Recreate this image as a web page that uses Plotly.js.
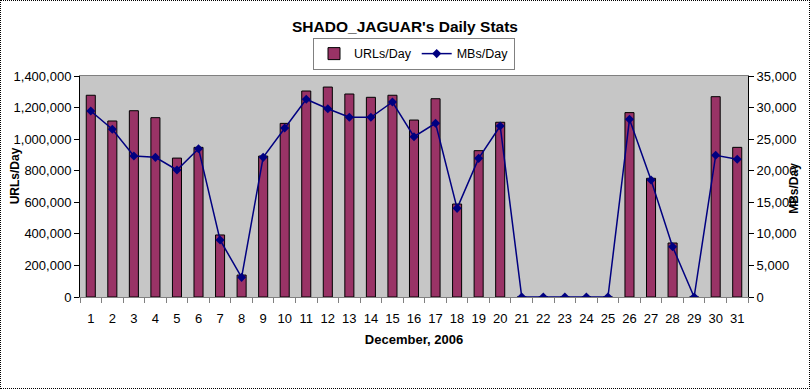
<!DOCTYPE html>
<html>
<head>
<meta charset="utf-8">
<script src="https://cdn.plot.ly/plotly-3.0.1.min.js"></script>
<style>
  html, body { margin: 0; padding: 0; background: #fff; }
  #chart { width: 808px; height: 387px; border: 1px dotted #000; }
</style>
</head>
<body>
<div id="chart"></div>
<script>
const days = ['1','2','3','4','5','6','7','8','9','10','11','12','13','14','15','16','17','18','19','20','21','22','23','24','25','26','27','28','29','30','31'];
const urlsPerDay = [1278000,1115000,1180000,1136000,880000,948000,393000,139000,893000,1100000,1305000,1330000,1286000,1265000,1278000,1121000,1256000,589000,927000,1107000,0,0,0,0,0,1168000,752000,342000,0,1269000,948000];
const mbsPerDay = [29460,26560,22330,22120,20110,23490,9030,3110,22120,26770,31310,29820,28460,28460,30880,25390,27510,14040,21960,27080,0,0,0,0,0,28140,18530,7970,0,22440,21810];
const urlTicks = [0,200000,400000,600000,800000,1000000,1200000,1400000];
const mbTicks = [0,5000,10000,15000,20000,25000,30000,35000];

const fnt = 'Liberation Sans, Arial, sans-serif';
const fmt = v => v.toLocaleString('en-US');

const traces = [
  {
    type: 'bar', name: 'URLs/Day', x: days, y: urlsPerDay,
    marker: { color: '#993366', line: { color: '#000', width: 1 } },
    hoverinfo: 'x+y'
  },
  {
    type: 'scatter', mode: 'lines+markers', name: 'MBs/Day', x: days, y: mbsPerDay, yaxis: 'y2',
    line: { color: '#000080', width: 1.5 },
    marker: { color: '#000080', symbol: 'diamond', size: 7 }
  }
];

const layout = {
  width: 808, height: 387,
  margin: { l: 79, r: 61, t: 75, b: 91 },
  paper_bgcolor: '#fff', plot_bgcolor: '#c6c6c6',
  font: { family: fnt, size: 12, color: '#000' },
  title: { text: "SHADO_JAGUAR's Daily Stats", font: { family: fnt, size: 15.5, color: '#000', weight: 'bold' }, x: 0.5, xanchor: 'center', y: 0.935, yanchor: 'middle' },
  bargap: 0.58,
  showlegend: true,
  legend: {
    orientation: 'h', x: 0.5, xanchor: 'center', y: 1.172, yanchor: 'top',
    bgcolor: '#fff', bordercolor: '#808080', borderwidth: 1,
    font: { family: fnt, size: 12.5 }, itemwidth: 30, traceorder: 'normal'
  },
  xaxis: {
    type: 'category', range: [-0.5, 30.5], tickson: 'boundaries', ticks: 'outside', ticklen: 5, tickcolor: '#808080',
    tickangle: 0, ticklabelstandoff: 9, showline: true, linecolor: '#808080', linewidth: 1, mirror: true,
    showgrid: false, zeroline: false, tickfont: { family: fnt, size: 13 },
    title: { text: 'December, 2006', font: { family: fnt, size: 13, weight: 'bold' }, standoff: 10 }
  },
  yaxis: {
    range: [0, 1400000], tickvals: urlTicks, ticktext: urlTicks.map(fmt),
    ticks: 'outside', ticklen: 5, tickcolor: '#000', showline: true, linecolor: '#000',
    showgrid: false, zeroline: false, tickfont: { family: fnt, size: 13 }
  },
  yaxis2: {
    overlaying: 'y', side: 'right', range: [0, 35000], tickvals: mbTicks, ticktext: mbTicks.map(fmt),
    ticks: 'outside', ticklen: 5, tickcolor: '#000', showline: true, linecolor: '#000',
    showgrid: false, zeroline: false, tickfont: { family: fnt, size: 13 }
  },
  annotations: [
    { text: 'URLs/Day', textangle: -90, xref: 'paper', yref: 'paper', x: -0.096, y: 0.55, xanchor: 'center', yanchor: 'middle', showarrow: false, font: { family: fnt, size: 12, weight: 'bold' } },
    { text: 'MBs/Day', textangle: -90, xref: 'paper', yref: 'paper', x: 1.069, y: 0.49, xanchor: 'center', yanchor: 'middle', showarrow: false, font: { family: fnt, size: 12, weight: 'bold' } }
  ]
};

Plotly.newPlot('chart', traces, layout, { displayModeBar: false, staticPlot: true });
</script>
</body>
</html>
